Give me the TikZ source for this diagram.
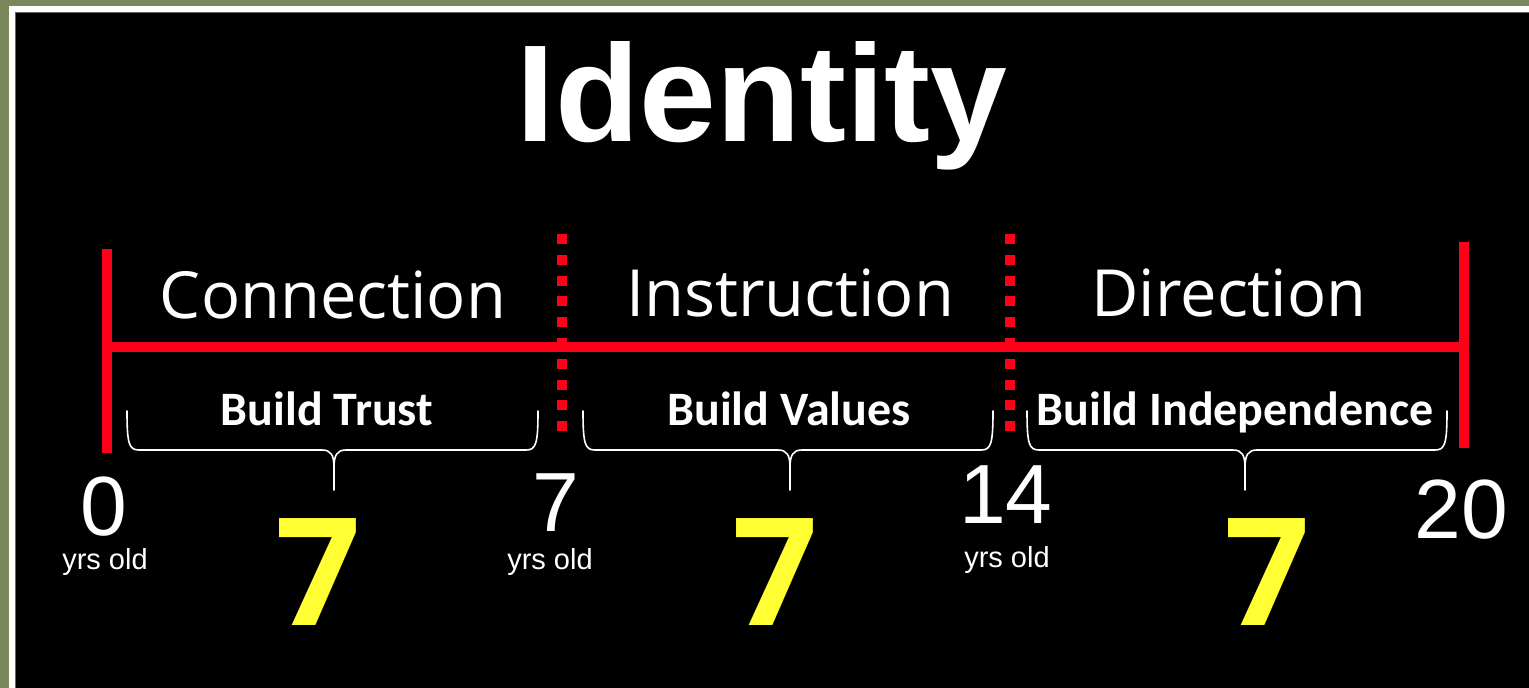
\documentclass[tikz,border=0pt]{standalone}
\usepackage{fontspec}
\setmainfont{Liberation Sans}
\newfontfamily\arialf{Liberation Sans}
\newfontfamily\openf{Open Sans}
\newfontfamily\calf{Carlito}
\definecolor{olivebg}{RGB}{122,136,92}
\definecolor{tlred}{RGB}{255,0,24}
\definecolor{sevenyellow}{RGB}{255,255,51}
\tikzset{
  lbl/.style={anchor=base, inner sep=0pt, text=white},
  titletxt/.style={lbl, font=\arialf\bfseries\fontsize{138}{138}\selectfont},
  phasetxt/.style={lbl, font=\openf\fontsize{65}{65}\selectfont},
  buildtxt/.style={lbl, font=\calf\bfseries\fontsize{48}{48}\selectfont},
  agetxt/.style={lbl, text depth=0pt, font=\arialf\fontsize{84}{84}\selectfont},
  yrstxt/.style={lbl, font=\arialf\fontsize{29}{29}\selectfont},
  seventxt/.style={lbl, text=sevenyellow, font=\openf\bfseries\fontsize{150}{150}\selectfont},
  redline/.style={draw=tlred, line width=10pt},
  reddots/.style={draw=tlred, line width=10pt, dash pattern=on 10pt off 10.8pt},
  bracestyle/.style={draw=white, line width=1.6pt, line cap=round, line join=round}
}
\begin{document}
\begin{tikzpicture}[x=1pt,y=-1pt]
\useasboundingbox (0,0) rectangle (1529,688);
\fill[olivebg] (0,0) rectangle (1529,688);
\fill[white] (9,6) rectangle (1529,688);
\fill[black!60] (15,12) rectangle (1529,688);
\fill[black] (16,13) rectangle (1529,688);

% title
\node[titletxt] (title) at (762,141) {Identity};

% timeline
\coordinate (L) at (107,347);
\coordinate (R) at (1464,347);
\coordinate (Ltop) at (107,249);
\coordinate (Lbot) at (107,453);
\coordinate (Rtop) at (1464,242);
\coordinate (Rbot) at (1464,448);
\coordinate (D1top) at (562,234);
\coordinate (D1bot) at (562,432);
\coordinate (D2top) at (1010,234);
\coordinate (D2bot) at (1010,432);
\draw[reddots] (D1top) -- (D1bot);
\draw[reddots] (D2top) -- (D2bot);
\draw[redline] (Ltop) -- (Lbot);
\draw[redline] (Rtop) -- (Rbot);
\draw[redline] (L) -- (R);

% phase labels
\node[phasetxt] (conn) at (333,318) {Connection};
\node[phasetxt] (instr) at (790,316) {Instruction};
\node[phasetxt] (dir) at (1229,316) {Direction};

% build labels
\node[buildtxt] (b1) at (327,425) {Build Trust};
\node[buildtxt] (b2) at (789,425) {Build Values};
\node[buildtxt] (b3) at (1235,425) {Build Independence};

% braces
\foreach \xa/\xm/\xb in {127/334/538, 583/790/993, 1027/1245/1447}{
  \draw[bracestyle] (\xa,411) .. controls (\xa,444) and (\xa+2,450) .. (\xa+12,450)
    -- (\xm-12,450) .. controls (\xm-3,450) and (\xm,455) .. (\xm,468) -- (\xm,490);
  \draw[bracestyle] (\xm,468) .. controls (\xm,455) and (\xm+3,450) .. (\xm+12,450)
    -- (\xb-12,450) .. controls (\xb-2,450) and (\xb,444) .. (\xb,411);
}

% ages
\node[agetxt] (a0) at (104,535) {0};
\node[agetxt] (a7) at (556,531) {7};
\node[agetxt] (a14) at (1006,523) {14};
\node[agetxt] (a20) at (1461,538) {20};
\node[yrstxt] (y0) at (105,569) {yrs old};
\node[yrstxt] (y7) at (550,569) {yrs old};
\node[yrstxt] (y14) at (1007,567) {yrs old};

% sevens
\node[seventxt] (s1) at (318,625) {7};
\node[seventxt] (s2) at (775,625) {7};
\node[seventxt] (s3) at (1267,625) {7};
\end{tikzpicture}
\end{document}
